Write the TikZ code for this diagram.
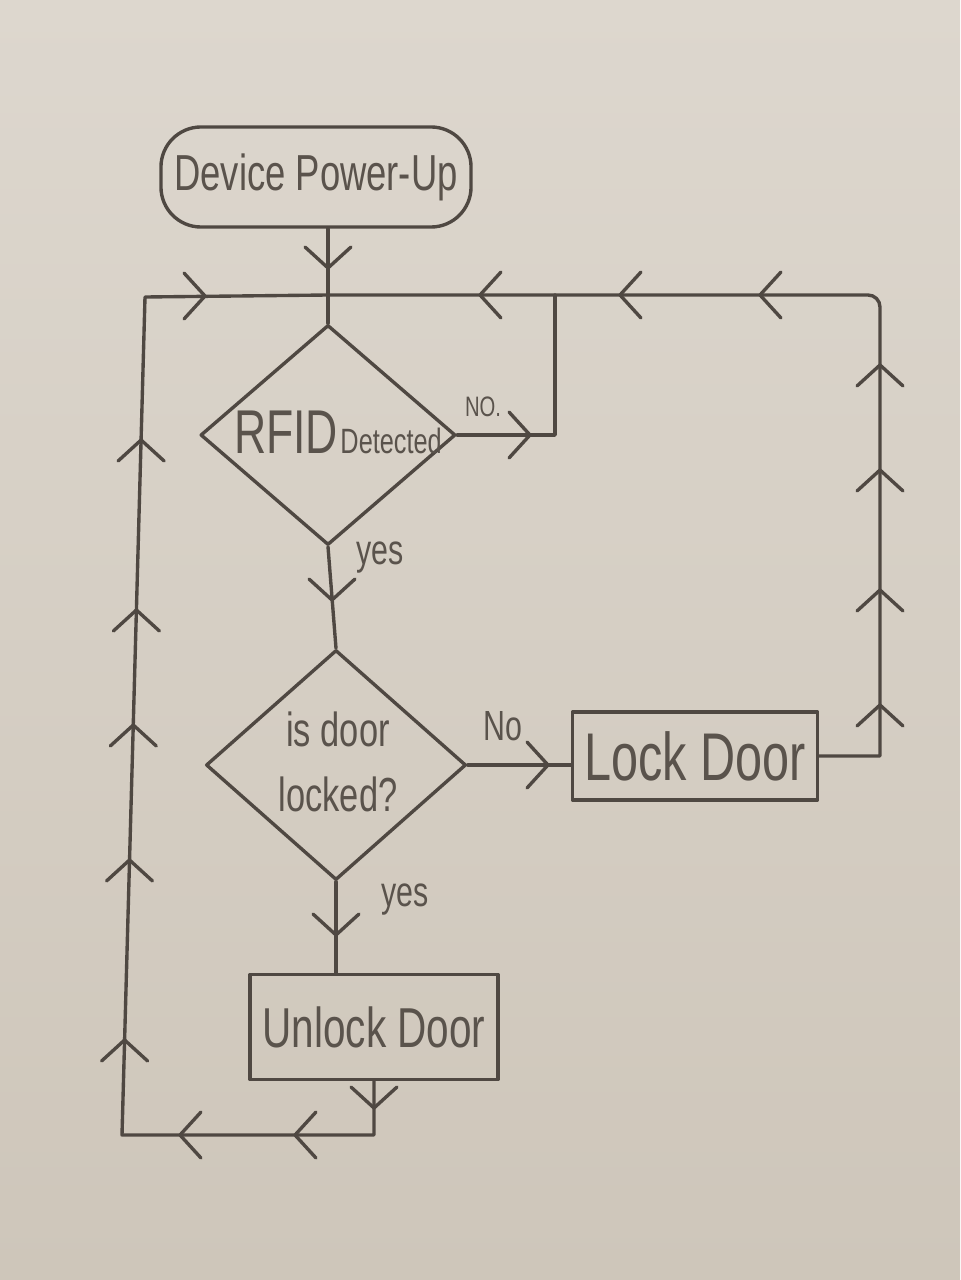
\documentclass[tikz,border=0pt]{standalone}
\usepackage{fontspec}
\newfontfamily\hand[FakeStretch=0.72]{Liberation Sans}
\usetikzlibrary{shapes.geometric}
\definecolor{paperTop}{HTML}{DDD7CE}
\definecolor{paperBot}{HTML}{CEC6BA}
\definecolor{pencil}{HTML}{4F4842}
\definecolor{pencilText}{HTML}{5A534C}
\tikzset{
  pline/.style={draw=pencil, line width=2.4pt, line cap=round, line join=round},
  conn/.style={pline},
  termbox/.style={pline, rounded corners=1cm, minimum width=7.75cm, minimum height=2.5cm, inner sep=0pt, text=pencilText},
  procbox/.style={pline, rectangle, inner sep=0pt, text=pencilText},
  decision/.style={pline, diamond, inner sep=0pt},
  lbl/.style={text=pencilText, inner sep=0pt},
  chev/.pic={\draw[pline] (-21,23) -- (0,0) -- (-21,-23);}
}
\begin{document}
\begin{tikzpicture}[x=0.025cm, y=-0.025cm]
\shade[top color=paperTop, bottom color=paperBot] (0,0) rectangle (960,1280);
\useasboundingbox (0,0) rectangle (960,1280);

% nodes
\node[termbox, font={\hand\fontsize{36}{40}\selectfont}] (start) at (316,177) {Device Power-Up};
\node[decision, minimum width=6.375cm, minimum height=5.5cm] (d1) at (328,435) {};
\node[decision, minimum width=6.5cm, minimum height=5.75cm] (d2) at (336,765) {};
\node[procbox, minimum width=6.125cm, minimum height=2.2cm, font={\hand\fontsize{48}{52}\selectfont}] (lock) at (695,756) {Lock Door};
\node[procbox, minimum width=6.2cm, minimum height=2.625cm, font={\hand\fontsize{40}{44}\selectfont}] (unlock) at (374,1027) {Unlock Door};

% texts inside diamonds
\node[lbl] (t1) at (338,432) {{\hand\fontsize{44}{48}\selectfont RFID}\,{\hand\fontsize{25}{28}\selectfont Detected}};
\node[lbl, align=center, font={\hand\fontsize{34}{46}\selectfont}] (t2) at (338,762) {is door\\locked?};

% edge labels
\node[lbl, font={\hand\fontsize{20}{22}\selectfont}] (lno1) at (483,407) {NO.};
\node[lbl, font={\hand\fontsize{30}{32}\selectfont}] (lyes1) at (380,558) {yes};
\node[lbl, font={\hand\fontsize{30}{32}\selectfont}] (lno2) at (503,726) {No};
\node[lbl, font={\hand\fontsize{30}{32}\selectfont}] (lyes2) at (405,900) {yes};

% junction coordinates
\coordinate (J) at (328,295);
\coordinate (TL) at (145,297);
\coordinate (BL) at (122,1135);
\coordinate (R2) at (555,295);
\coordinate (RT) at (880,295);

% connectors
\draw[conn] (d1.north |- start.south) -- (d1.north);
\draw[conn] (d1.south) -- (d2.north);
\draw[conn] (d1.east) -| (R2);
\draw[conn] (d2.east) -- (d2.east -| lock.west);
\draw[conn] (lock.east) -- (lock.east -| RT) [rounded corners=0.3cm] -- (RT) -- (J);
\draw[conn] (d2.south) -- (d2.south |- unlock.north);
\draw[conn] (unlock.south) |- (BL) -- (TL) -- (J);

% chevrons
\pic[rotate=-90] at (328,268) {chev};
\pic at (205,296) {chev};
\pic[rotate=180] at (480,295) {chev};
\pic[rotate=180] at (620,295) {chev};
\pic[rotate=180] at (760,295) {chev};
\pic at (530,435) {chev};
\pic[rotate=90] at (880,365) {chev};
\pic[rotate=90] at (880,470) {chev};
\pic[rotate=90] at (880,590) {chev};
\pic[rotate=90] at (880,705) {chev};
\pic[rotate=-90] at (332,600) {chev};
\pic at (548,765) {chev};
\pic[rotate=-90] at (336,935) {chev};
\pic[rotate=-90] at (374,1108) {chev};
\pic[rotate=180] at (295,1135) {chev};
\pic[rotate=180] at (180,1135) {chev};
\pic[rotate=90] at (124.6,1040) {chev};
\pic[rotate=90] at (129.5,860) {chev};
\pic[rotate=90] at (133.3,725) {chev};
\pic[rotate=90] at (136.4,610) {chev};
\pic[rotate=90] at (141.1,440) {chev};
\end{tikzpicture}
\end{document}
